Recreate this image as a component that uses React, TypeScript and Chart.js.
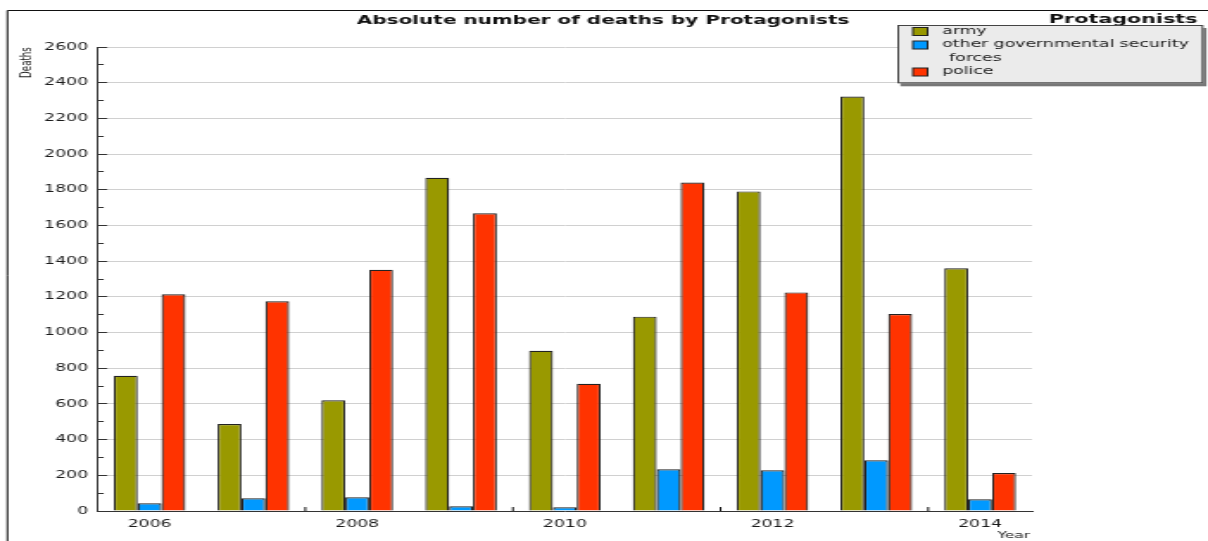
import React, { useEffect, useRef } from 'react';
import { Chart, registerables } from 'chart.js';

Chart.register(...registerables);

// ---- data ----
const years = ['2006', '2007', '2008', '2009', '2010', '2011', '2012', '2013', '2014'];
const xTickLabels = ['2006', '', '2008', '', '2010', '', '2012', '', '2014'];
const army = [758, 487, 620, 1867, 898, 1089, 1791, 2323, 1360];
const otherForces = [43, 71, 77, 26, 21, 234, 228, 284, 66];
const police = [1214, 1175, 1352, 1668, 713, 1841, 1225, 1104, 213];
const seriesNames = ['army', 'other governmental security forces', 'police'];
const legendLines = [['army'], ['other governmental security', 'forces'], ['police']];
const seriesColors = ['#999900', '#0099ff', '#ff3300'];
const chartTitle = 'Absolute number of deaths by Protagonists';
const legendTitle = 'Protagonists';
const yAxisTitle = 'Deaths';
const xAxisTitle = 'Year';
const yMax = 2600;
const yStep = 200;
const yMinorStep = 100;

// internal drawing size; the canvas is stretched horizontally by CSS to 1208px
const W = 700;
const H = 541;
const FONT = "'DejaVu Sans', 'Liberation Sans', sans-serif";

const align = (p: number) => Math.round(p - 0.5) + 0.5;

const decorPlugin = {
  id: 'decor',
  afterDraw(chart: any) {
    const ctx = chart.ctx as CanvasRenderingContext2D;
    const { left, right, bottom } = chart.chartArea;
    const ys = chart.scales.y;
    const xs = chart.scales.x;
    ctx.save();

    // y axis inner ticks (major + minor)
    ctx.strokeStyle = '#333';
    ctx.lineWidth = 1;
    ctx.beginPath();
    for (let v = 0; v <= yMax; v += yMinorStep) {
      const y = align(ys.getPixelForValue(v));
      const len = v % yStep === 0 ? 5.5 : 3.5;
      ctx.moveTo(left, y);
      ctx.lineTo(left + len, y);
    }
    ctx.stroke();

    // x axis inner ticks between groups
    ctx.beginPath();
    for (let i = 1; i < years.length - 1; i += 2) {
      const x = (xs.getPixelForValue(i) + xs.getPixelForValue(i + 1)) / 2;
      ctx.moveTo(x, bottom);
      ctx.lineTo(x, bottom - 4);
    }
    ctx.strokeStyle = '#111';
    ctx.lineWidth = 1;
    ctx.stroke();

    // outer frame (top + left)
    ctx.strokeStyle = '#111';
    ctx.lineWidth = 1;
    ctx.beginPath();
    ctx.moveTo(4.3, H);
    ctx.lineTo(4.3, 10.5);
    ctx.lineTo(W, 10.5);
    ctx.stroke();

    // main title
    ctx.fillStyle = '#111';
    ctx.font = `bold 11.6px ${FONT}`;
    ctx.textAlign = 'center';
    ctx.textBaseline = 'alphabetic';
    ctx.fillText(chartTitle, 349.4, 24);

    // legend title
    ctx.font = `bold 12px ${FONT}`;
    ctx.textAlign = 'right';
    ctx.fillText(legendTitle, 694, 23);

    // legend box
    const bx = 520, by = 25, bw = 177.3, bh = 58.3;
    ctx.fillStyle = '#777';
    ctx.fillRect(bx + 1.8, by + 3, bw, bh);
    ctx.fillStyle = '#ebebeb';
    ctx.fillRect(bx, by, bw, bh);
    ctx.strokeStyle = '#444';
    ctx.lineWidth = 1;
    ctx.strokeRect(bx + 0.5, by + 0.5, bw - 1, bh - 1);

    ctx.font = `10px ${FONT}`;
    ctx.textAlign = 'left';
    ctx.textBaseline = 'middle';
    let line = 0;
    legendLines.forEach((lines, k) => {
      const sy = 31.5 + 13.5 * line;
      ctx.fillStyle = seriesColors[k];
      ctx.fillRect(529, sy - 4, 8.5, 8);
      ctx.strokeStyle = '#222';
      ctx.strokeRect(529, sy - 4, 8.5, 8);
      ctx.fillStyle = '#1a1a1a';
      lines.forEach((t, j) => {
        ctx.fillText(t, j === 0 ? 546 : 550, 31 + 13.5 * line);
        line++;
      });
    });

    // axis titles
    ctx.fillStyle = '#1a1a1a';
    ctx.save();
    ctx.translate(15.9, 62.5);
    ctx.rotate(-Math.PI / 2);
    ctx.font = `8.7px ${FONT}`;
    ctx.textAlign = 'center';
    ctx.textBaseline = 'middle';
    ctx.fillText(yAxisTitle, 0, 0);
    ctx.restore();

    ctx.font = `9px ${FONT}`;
    ctx.textAlign = 'right';
    ctx.textBaseline = 'alphabetic';
    ctx.fillText(xAxisTitle, right - 1, 538);

    ctx.restore();
  },
};

export default function App() {
  const ref = useRef<HTMLCanvasElement | null>(null);

  useEffect(() => {
    if (!ref.current) return;
    const chart = new Chart(ref.current, {
      type: 'bar',
      data: {
        labels: years,
        datasets: [
          { label: seriesNames[0], data: army, backgroundColor: seriesColors[0] },
          { label: seriesNames[1], data: otherForces, backgroundColor: seriesColors[1] },
          { label: seriesNames[2], data: police, backgroundColor: seriesColors[2] },
        ].map((d) => ({
          ...d,
          borderColor: '#222',
          borderWidth: 1.2,
          categoryPercentage: 0.69,
          barPercentage: 1.0,
        })),
      },
      options: {
        responsive: false,
        animation: false,
        devicePixelRatio: 1,
        layout: { padding: { left: 0, right: W - 598, top: 47, bottom: 0 } },
        plugins: {
          legend: { display: false },
          title: { display: false },
          tooltip: { enabled: false },
        },
        scales: {
          x: {
            type: 'category',
            offset: true,
            grid: { display: false },
            border: { display: true, color: '#333', width: 1 },
            ticks: {
              autoSkip: false,
              maxRotation: 0,
              padding: -1,
              color: '#1a1a1a',
              font: { family: FONT, size: 10 },
              callback: (_v: any, i: number) => xTickLabels[i],
            },
            afterFit: (s: any) => {
              s.height = 30;
            },
          },
          y: {
            min: 0,
            max: yMax,
            grid: { color: '#d0d0d0', lineWidth: 1, drawTicks: false },
            border: { display: true, color: '#333', width: 1 },
            ticks: {
              stepSize: yStep,
              padding: 5.6,
              color: '#1a1a1a',
              font: { family: FONT, size: 10 },
              callback: (v: any) => String(v),
            },
            afterFit: (s: any) => {
              s.width = 56.6;
            },
          },
        },
      } as any,
      plugins: [decorPlugin],
    });
    return () => chart.destroy();
  }, []);

  return (
    <canvas
      ref={ref}
      width={W}
      height={H}
      style={{ position: 'fixed', left: 0, top: 0, width: '1208px', height: '541px', display: 'block' }}
    />
  );
}
